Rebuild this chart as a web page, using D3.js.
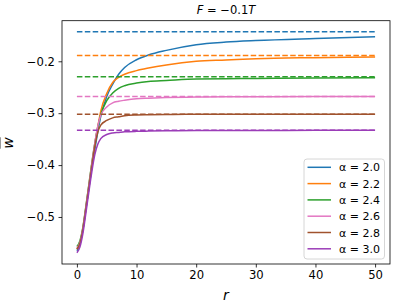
<!DOCTYPE html>
<html><head><meta charset="utf-8">
<script src="https://cdn.jsdelivr.net/npm/d3@7"></script>
<style>body{margin:0;background:#fff}svg{display:block;font-family:"DejaVu Sans",sans-serif}</style>
</head><body><svg id="c" width="397" height="308"></svg>
<script>
const rValues = [0,0.5,1,1.5,2,2.5,3,3.5,4,5,6,7,8,10,12,15,20,25,30,40,50];
const alphas = ["2.0","2.2","2.4","2.6","2.8","3.0"];
const colors = ["#1f77b4","#ff7f0e","#2ca02c","#e377c2","#a0522d","#9b3db8"];
const wA20 = [-0.565,-0.553,-0.525,-0.485,-0.445,-0.405,-0.370,-0.336,-0.306,-0.268,-0.244,-0.225,-0.212,-0.197,-0.188,-0.179,-0.168,-0.163,-0.160,-0.156,-0.1526];
const wA22 = [-0.562,-0.550,-0.522,-0.482,-0.440,-0.398,-0.360,-0.326,-0.296,-0.262,-0.241,-0.231,-0.225,-0.218,-0.213,-0.207,-0.200,-0.1975,-0.195,-0.193,-0.1917];
const wA24 = [-0.557,-0.546,-0.520,-0.480,-0.438,-0.396,-0.358,-0.327,-0.303,-0.276,-0.261,-0.252,-0.247,-0.242,-0.239,-0.237,-0.234,-0.2335,-0.233,-0.232,-0.2316];
const wA26 = [-0.560,-0.549,-0.522,-0.482,-0.440,-0.398,-0.358,-0.325,-0.304,-0.288,-0.280,-0.277,-0.275,-0.272,-0.271,-0.270,-0.269,-0.2685,-0.2683,-0.268,-0.268];
const wA28 = [-0.562,-0.551,-0.525,-0.486,-0.444,-0.403,-0.364,-0.337,-0.323,-0.314,-0.309,-0.307,-0.305,-0.3035,-0.303,-0.3025,-0.302,-0.302,-0.302,-0.302,-0.302];
const wA30 = [-0.569,-0.558,-0.532,-0.493,-0.452,-0.413,-0.380,-0.360,-0.349,-0.341,-0.338,-0.337,-0.336,-0.335,-0.3345,-0.334,-0.3335,-0.3333,-0.3333,-0.333,-0.333];
const asymptotes = [-0.143,-0.189,-0.230,-0.268,-0.302,-0.333];
const xTicks = [0,10,20,30,40,50];
const yTicks = [-0.5,-0.4,-0.3,-0.2];
const series = [wA20,wA22,wA24,wA26,wA28,wA30];

const svg = d3.select("#c");
const L=62,T=20.7,R=390,B=264;
const x = d3.scaleLinear().domain([-2.5,52.5]).range([L,R]);
const y = d3.scaleLinear().domain([-0.5906,-0.1218]).range([B,T]);

const line = d3.line().x((d,i)=>x(rValues[i])).y(d=>y(d)).curve(d3.curveMonotoneX);
const g = svg.append("g");
series.forEach((s,k)=>{
  g.append("path").attr("d",line(s)).attr("fill","none").attr("stroke",colors[k]).attr("stroke-width",1.5);
  g.append("line").attr("x1",x(0)).attr("x2",x(50)).attr("y1",y(asymptotes[k])).attr("y2",y(asymptotes[k]))
    .attr("stroke",colors[k]).attr("stroke-width",1.5).attr("stroke-dasharray","5.5,2.4");
});

const xa = svg.append("g").attr("transform",`translate(0,${B})`)
  .call(d3.axisBottom(x).tickValues(xTicks).tickSize(3.5).tickPadding(3.5).tickFormat(d3.format("d")));
const ya = svg.append("g").attr("transform",`translate(${L},0)`)
  .call(d3.axisLeft(y).tickValues(yTicks).tickSize(3.5).tickPadding(3.5).tickFormat(d=>d3.format(".1f")(d).replace("-","\u2212")));
[xa,ya].forEach(a=>{a.select(".domain").remove();a.selectAll("text").attr("font-size",11.6).attr("font-family","DejaVu Sans").attr("fill","#000");a.selectAll("line").attr("stroke","#000").attr("stroke-width",0.8);});
svg.append("rect").attr("x",L).attr("y",T).attr("width",R-L).attr("height",B-T).attr("fill","none").attr("stroke","#000").attr("stroke-width",0.8);

// title
const t = svg.append("text").attr("x",(L+R)/2).attr("y",14).attr("text-anchor","middle").attr("font-size",11.5);
t.append("tspan").attr("font-style","italic").text("F");
t.append("tspan").text(" = \u22120.1");
t.append("tspan").attr("font-style","italic").text("T");

svg.append("text").attr("x",(L+R)/2).attr("y",300).attr("text-anchor","middle").attr("font-size",14).attr("font-style","italic").text("r");
svg.append("text").attr("transform","translate(13,143) rotate(-90)").attr("text-anchor","middle").attr("font-size",14).attr("font-style","italic").style("text-decoration","overline").text("w");

// legend
const lg = svg.append("g");
lg.append("rect").attr("x",304).attr("y",159).attr("width",80.5).attr("height",100).attr("rx",3).attr("fill","#fff").attr("fill-opacity",0.8).attr("stroke","#ccc").attr("stroke-width",0.8);
alphas.forEach((a,k)=>{
  const yy = 167.3 + k*16.3;
  lg.append("line").attr("x1",307.5).attr("x2",331).attr("y1",yy).attr("y2",yy).attr("stroke",colors[k]).attr("stroke-width",1.5);
  lg.append("text").attr("x",339).attr("y",yy+4).attr("font-size",11).text("\u03b1 = "+a);
});
</script></body></html>
